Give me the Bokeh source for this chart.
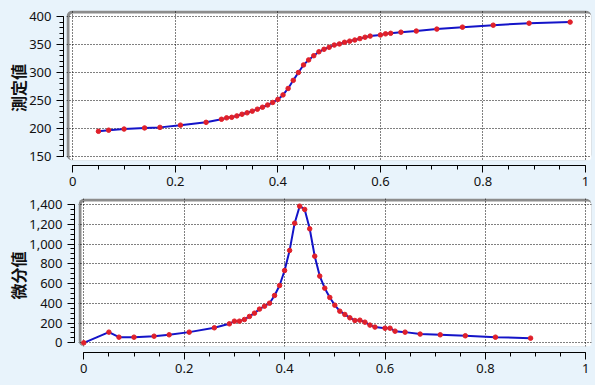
from bokeh.plotting import figure
from bokeh.models import (Range1d, SingleIntervalTicker, NumeralTickFormatter,
                          BoxAnnotation)
from bokeh.embed import file_html
from bokeh.resources import INLINE

# ---- data ----
x_meas = [0.05, 0.07, 0.10, 0.14, 0.17, 0.21, 0.26,
          0.29, 0.30, 0.31, 0.32, 0.33, 0.34, 0.35, 0.36, 0.37, 0.38, 0.39, 0.40,
          0.41, 0.42, 0.43, 0.44, 0.45, 0.46, 0.47, 0.48, 0.49, 0.50, 0.51, 0.52,
          0.53, 0.54, 0.55, 0.56, 0.57, 0.58,
          0.60, 0.61, 0.62, 0.64, 0.67, 0.71, 0.76, 0.82, 0.89, 0.97]
y_meas = [195, 197, 199, 201, 202, 206, 211,
          216.5, 219, 220, 222.5, 225.5, 228, 231, 234.5, 238, 242, 246.5, 252,
          260, 271.5, 286, 300, 313.5, 322.5, 330, 337, 341.5, 345, 349, 351,
          354, 356, 358, 360.5, 363, 365,
          367, 369, 370, 372, 374, 377.5, 381, 384.5, 388, 390]

x_diff = [0, 0.05, 0.07, 0.10, 0.14, 0.17, 0.21, 0.26,
          0.29, 0.30, 0.31, 0.32, 0.33, 0.34, 0.35, 0.36, 0.37, 0.38, 0.39, 0.40,
          0.41, 0.42, 0.43, 0.44, 0.45, 0.46, 0.47, 0.48, 0.49, 0.50, 0.51, 0.52,
          0.53, 0.54, 0.55, 0.56, 0.57, 0.58,
          0.60, 0.61, 0.62, 0.64, 0.67, 0.71, 0.76, 0.82, 0.89]
y_diff = [0, 108, 57, 57, 67, 81, 108, 152,
          192, 219, 219, 236, 267, 300, 341, 371, 401, 479, 580, 732,
          935, 1211, 1383, 1350, 1154, 877, 675, 553, 459, 381, 320, 287,
          253, 226, 229, 209, 179, 159,
          148, 148, 118, 108, 88, 81, 71, 57, 47]

top_label = "測定値"
bottom_label = "微分値"

BG = "#E8F3FB"
GRAY = "#8C8C8C"
BLUE = "#1414C8"
RED = "#E0202A"
TICK_FONT = "Noto Sans"
TITLE_FONT = "Noto Sans CJK JP"


def make_fig(height, xr, yr, min_left, min_top, min_bottom, xstandoff, ybounds, yint,
             yminor, yfmt, title, gray_left, gray_bottom, white_left,
             white_top, xs, ys):
    p = figure(width=595, height=height, x_range=Range1d(*xr), y_range=Range1d(*yr),
               output_backend="svg", toolbar_location=None,
               background_fill_color=BG, border_fill_color=BG, outline_line_color=None,
               min_border_left=min_left, min_border_right=4,
               min_border_top=min_top, min_border_bottom=min_bottom)

    xt = SingleIntervalTicker(interval=0.2, num_minor_ticks=4)
    yt = SingleIntervalTicker(interval=yint, num_minor_ticks=yminor)
    p.xaxis.ticker = xt
    p.yaxis.ticker = yt
    p.xgrid.ticker = xt
    p.ygrid.ticker = yt
    p.xaxis.bounds = (0, 1)
    p.yaxis.bounds = ybounds
    p.xgrid.bounds = (0, 1)
    p.ygrid.bounds = ybounds
    p.xaxis.formatter = NumeralTickFormatter(format="0.[0]")
    p.yaxis.formatter = yfmt

    for ax in (p.xaxis[0], p.yaxis[0]):
        ax.axis_line_color = "black"
        ax.major_tick_line_color = "black"
        ax.minor_tick_line_color = "black"
        ax.major_tick_in = 0
        ax.minor_tick_in = 0
        ax.major_tick_out = 7
        ax.minor_tick_out = 4
        ax.major_label_text_font = TICK_FONT
        ax.major_label_text_font_size = "13px"
        ax.major_label_text_color = "#111111"
    p.xaxis.major_label_standoff = xstandoff
    p.yaxis.major_label_standoff = 5
    p.yaxis.axis_label = title
    p.yaxis.axis_label_text_font = TITLE_FONT
    p.yaxis.axis_label_text_font_size = "16px"
    p.yaxis.axis_label_text_font_style = "bold"
    p.yaxis.axis_label_text_color = "#111111"
    p.yaxis.axis_label_standoff = -4

    for g in (p.xgrid[0], p.ygrid[0]):
        g.grid_line_color = "black"
        g.grid_line_dash = "1 2"
        g.grid_line_width = 1

    gray = BoxAnnotation(left=gray_left, bottom=gray_bottom, fill_color=GRAY, fill_alpha=1,
                         line_color=None, level="image", border_radius=6)
    white = BoxAnnotation(left=white_left, top=white_top, bottom=gray_bottom,
                          fill_color="white", fill_alpha=1, line_color=None,
                          level="image", border_radius=4)
    strip_b = BoxAnnotation(top=gray_bottom, fill_color=BG, fill_alpha=1, line_color=None,
                            level="glyph")
    strip_l = BoxAnnotation(right=gray_left, fill_color=BG, fill_alpha=1, line_color=None,
                            level="glyph")
    for b in (gray, white, strip_b, strip_l):
        p.add_layout(b)

    p.line(xs, ys, line_color=BLUE, line_width=2)
    p.scatter(xs, ys, size=4.5, fill_color=RED, line_color=RED)
    return p


p1 = make_fig(194, (-0.01814, 1.0117), (133.93, 410.71), 63, 10, 29, 4, (150, 400), 50, 5,
              NumeralTickFormatter(format="0"), top_label,
              -0.01229, 142.86, -0.00644, 405.36, x_meas, y_meas)
p2 = make_fig(191, (-0.01853, 1.01135), (-98.2, 1460.7), 74, 4, 33, 4, (0, 1400), 200, 4,
              NumeralTickFormatter(format="0,0"), bottom_label,
              -0.01056, -37.5, -0.00458, 1430.4, x_diff, y_diff)

html = file_html([p1, p2], INLINE)
html = html.replace("<body>", '<body style="background-color:#E8F3FB;">')
open("out.html", "w").write(html)
